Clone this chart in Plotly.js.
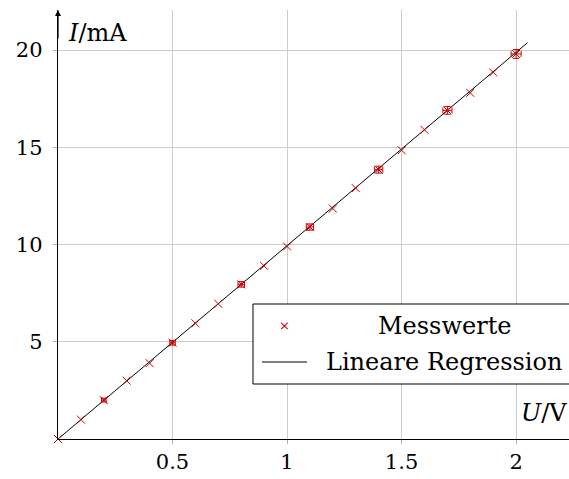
<!DOCTYPE html>
<html>
<head>
<meta charset="utf-8">
<script src="https://cdn.plot.ly/plotly-3.0.1.min.js"></script>
<style>
html,body{margin:0;padding:0;background:#fff;}
#chart{width:569px;height:479px;}
</style>
</head>
<body>
<div id="chart"></div>
<script>
// Measured values
const voltage = [0, 0.1, 0.2, 0.3, 0.4, 0.5, 0.6, 0.7, 0.8, 0.9, 1.0, 1.1, 1.2, 1.3, 1.4, 1.5, 1.6, 1.7, 1.8, 1.9, 2.0];
const current = [0, 1.0, 2.0, 3.0, 3.9, 4.95, 5.95, 6.95, 7.95, 8.9, 9.9, 10.9, 11.85, 12.9, 13.85, 14.85, 15.9, 16.9, 17.8, 18.85, 19.8];
// Points with error bars
const errVoltage = [0.2, 0.5, 0.8, 1.1, 1.4, 1.7, 2.0];
const errCurrent = [2.0, 4.95, 7.95, 10.9, 13.85, 16.9, 19.8];
const errU = [0.010, 0.012, 0.014, 0.016, 0.018, 0.020, 0.022];
const errI = [0.10, 0.12, 0.14, 0.16, 0.18, 0.20, 0.23];
// Linear regression line endpoints
const regU = [0, 2.05];
const regI = [0, 20.38];

const xTicks = [0.5, 1, 1.5, 2];
const xTickText = ['0.5', '1', '1.5', '2'];
const yTicks = [5, 10, 15, 20];
const yTickText = ['5', '10', '15', '20'];

const red = '#cc0000';
const font = 'DejaVu Serif';

const traces = [
  {
    x: regU, y: regI, mode: 'lines', type: 'scatter',
    line: {color: '#000', width: 1}, hoverinfo: 'skip', showlegend: false, cliponaxis: false
  },
  {
    x: errVoltage, y: errCurrent, mode: 'markers', type: 'scatter',
    marker: {size: 0.1, color: red},
    error_x: {type: 'data', array: errU, color: red, thickness: 1, width: 3},
    error_y: {type: 'data', array: errI, color: red, thickness: 1, width: 3},
    showlegend: false, hoverinfo: 'skip'
  },
  {
    x: voltage, y: current, mode: 'markers', type: 'scatter',
    marker: {symbol: 'x-thin-open', size: 8, color: red, line: {color: red, width: 1}},
    showlegend: false, cliponaxis: false
  }
];

const layout = {
  width: 569, height: 479,
  margin: {l: 58, r: 0, t: 10, b: 40},
  paper_bgcolor: '#fff', plot_bgcolor: '#fff',
  showlegend: false,
  font: {family: font, size: 20, color: '#000'},
  xaxis: {
    range: [0, 2.231], tickvals: xTicks, ticktext: xTickText,
    showgrid: true, gridcolor: '#cccccc', gridwidth: 1,
    zeroline: false, showline: true, linecolor: '#000', linewidth: 1.2,
    ticks: 'outside', ticklen: 4, tickcolor: '#b0b0b0', tickwidth: 1,
    tickfont: {family: font, size: 21}, fixedrange: true
  },
  yaxis: {
    range: [0, 22.06], tickvals: yTicks, ticktext: yTickText,
    showgrid: true, gridcolor: '#cccccc', gridwidth: 1,
    zeroline: false, showline: true, linecolor: '#000', linewidth: 1.2,
    ticks: 'outside', ticklen: 4, tickcolor: '#b0b0b0', tickwidth: 1,
    ticklabelstandoff: 6,
    tickfont: {family: font, size: 21}, fixedrange: true
  },
  shapes: [
    {type: 'rect', xref: 'paper', yref: 'paper', x0: (253-58)/511, x1: 1.01, y0: (439-384)/429, y1: (439-304)/429,
     line: {color: '#000', width: 1}, fillcolor: '#fff', layer: 'above'},
    {type: 'line', xref: 'paper', yref: 'paper', x0: (262-58)/511, x1: (307-58)/511, y0: (439-362)/429, y1: (439-362)/429,
     line: {color: '#000', width: 1}, layer: 'above'}
  ],
  annotations: [
    {xref: 'paper', yref: 'paper', x: 0, y: 1, ax: 0, ay: 30, showarrow: true, arrowhead: 2, arrowsize: 1, arrowwidth: 1.2, arrowcolor: '#000', text: ''},
    {xref: 'paper', yref: 'paper', x: (66-58)/511, y: (439-33)/429, xanchor: 'left', yanchor: 'middle', showarrow: false,
     text: '<i>I</i>/mA', font: {family: font, size: 24}},
    {xref: 'paper', yref: 'paper', x: 1.0, y: (439-413)/429, xanchor: 'right', yanchor: 'middle', showarrow: false,
     text: '<i>U</i>/V', font: {family: font, size: 24}},
    {xref: 'paper', yref: 'paper', x: (284-58)/511, y: (439-326)/429, xanchor: 'center', yanchor: 'middle', showarrow: false,
     text: '×', font: {family: font, size: 13, color: red}},
    {xref: 'paper', yref: 'paper', x: (444-58)/511, y: (439-326)/429, xanchor: 'center', yanchor: 'middle', showarrow: false,
     text: 'Messwerte', font: {family: font, size: 24}},
    {xref: 'paper', yref: 'paper', x: (444-58)/511, y: (439-362)/429, xanchor: 'center', yanchor: 'middle', showarrow: false,
     text: 'Lineare Regression', font: {family: font, size: 24}}
  ]
};

Plotly.newPlot('chart', traces, layout, {displayModeBar: false, staticPlot: true});
</script>
</body>
</html>
